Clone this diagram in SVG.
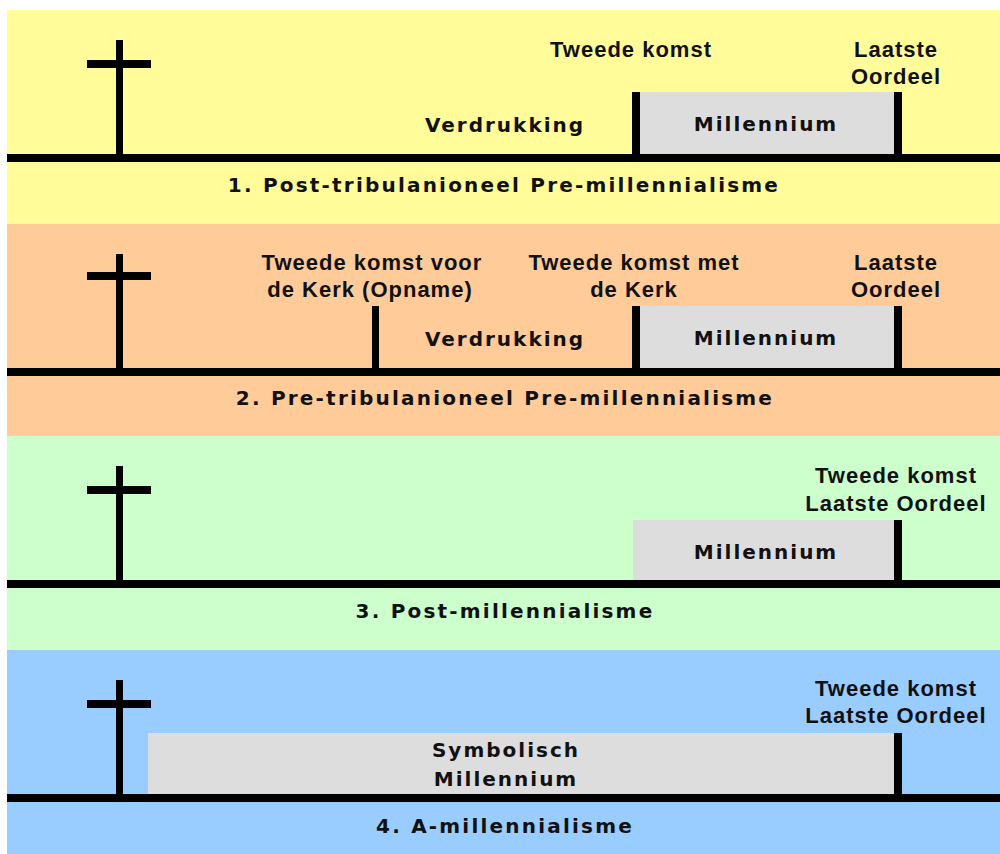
<svg xmlns="http://www.w3.org/2000/svg" width="1000" height="854" viewBox="0 0 1000 854">
<style>
.bar{fill:#000}
.box{fill:#DDDDDD}
.lbl{font-family:"Liberation Sans",Arial,sans-serif;font-weight:bold;font-size:22px;letter-spacing:1px;fill:#111;text-anchor:middle}
.px{font-family:"DejaVu Sans",sans-serif;font-weight:bold;font-size:20px;letter-spacing:2px;fill:#111;text-anchor:middle}
.foot{letter-spacing:2.2px}
</style>
<rect width="1000" height="854" fill="#fff"/>
<g id="panel1">
<rect x="7" y="10" width="993" height="214" fill="#FFFC99"/>
<rect class="box" x="640" y="92" width="254" height="62"/>
<rect class="bar" x="116" y="40" width="7" height="114"/>
<rect class="bar" x="87" y="60" width="64" height="8"/>
<rect class="bar" x="632" y="92" width="8" height="62"/>
<rect class="bar" x="894" y="92" width="8" height="62"/>
<rect class="bar" x="7" y="154" width="993" height="8"/>
<text class="lbl" x="631" y="57">Tweede komst</text>
<text class="lbl" x="896" y="57">Laatste</text>
<text class="lbl" x="896" y="84">Oordeel</text>
<text class="px" x="505" y="132">Verdrukking</text>
<text class="px" x="766" y="131">Millennium</text>
<text class="px foot" x="504" y="192">1. Post-tribulanioneel Pre-millennialisme</text>
</g>
<g id="panel2">
<rect x="7" y="224" width="993" height="212" fill="#FFCC99"/>
<rect class="box" x="640" y="306" width="254" height="62"/>
<rect class="bar" x="116" y="254" width="7" height="114"/>
<rect class="bar" x="87" y="272" width="64" height="8"/>
<rect class="bar" x="372" y="306" width="7" height="62"/>
<rect class="bar" x="632" y="306" width="8" height="62"/>
<rect class="bar" x="894" y="306" width="8" height="62"/>
<rect class="bar" x="7" y="368" width="993" height="8"/>
<text class="lbl" x="372" y="270">Tweede komst voor</text>
<text class="lbl" x="370" y="297">de Kerk (Opname)</text>
<text class="lbl" x="634" y="270">Tweede komst met</text>
<text class="lbl" x="634" y="297">de Kerk</text>
<text class="lbl" x="896" y="270">Laatste</text>
<text class="lbl" x="896" y="297">Oordeel</text>
<text class="px" x="505" y="346">Verdrukking</text>
<text class="px" x="766" y="345">Millennium</text>
<text class="px foot" x="505" y="405">2. Pre-tribulanioneel Pre-millennialisme</text>
</g>
<g id="panel3">
<rect x="7" y="436" width="993" height="214" fill="#CCFFCC"/>
<rect class="box" x="633" y="520" width="261" height="60"/>
<rect class="bar" x="116" y="466" width="7" height="114"/>
<rect class="bar" x="87" y="486" width="64" height="8"/>
<rect class="bar" x="894" y="520" width="8" height="60"/>
<rect class="bar" x="7" y="580" width="993" height="8"/>
<text class="lbl" x="896" y="483">Tweede komst</text>
<text class="lbl" x="896" y="511">Laatste Oordeel</text>
<text class="px" x="766" y="559">Millennium</text>
<text class="px foot" x="505" y="618">3. Post-millennialisme</text>
</g>
<g id="panel4">
<rect x="7" y="650" width="993" height="204" fill="#99CCFF"/>
<rect class="box" x="148" y="733" width="746" height="61"/>
<rect class="bar" x="116" y="680" width="7" height="114"/>
<rect class="bar" x="87" y="700" width="64" height="8"/>
<rect class="bar" x="894" y="733" width="8" height="61"/>
<rect class="bar" x="7" y="794" width="993" height="8"/>
<text class="lbl" x="896" y="696">Tweede komst</text>
<text class="lbl" x="896" y="723">Laatste Oordeel</text>
<text class="px" x="506" y="757">Symbolisch</text>
<text class="px" x="506" y="786">Millennium</text>
<text class="px foot" x="505" y="833">4. A-millennialisme</text>
</g>
<g id="connectors"></g>
</svg>
